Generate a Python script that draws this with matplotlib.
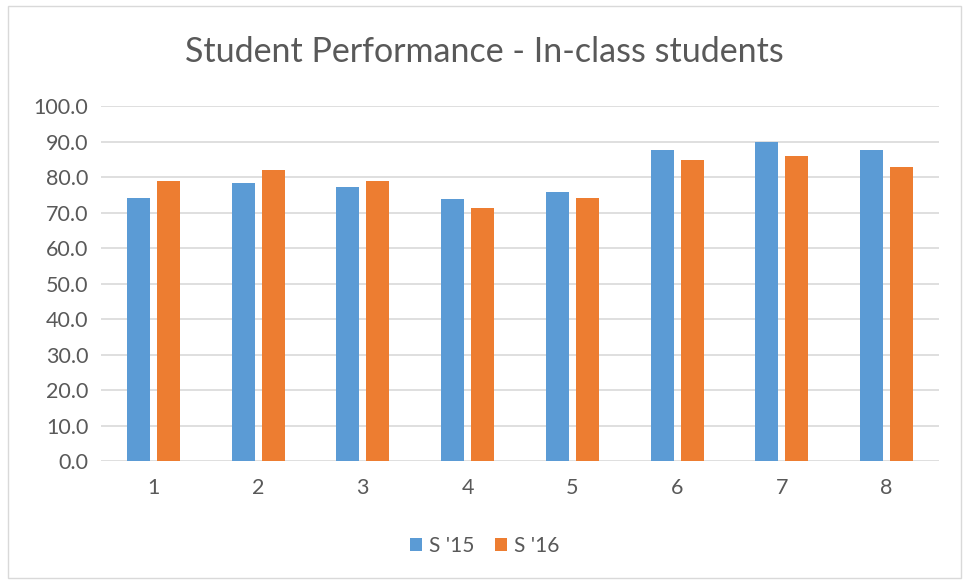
import matplotlib
matplotlib.use("Agg")
import matplotlib.pyplot as plt
import numpy as np
from matplotlib.patches import Rectangle

categories = ["1", "2", "3", "4", "5", "6", "7", "8"]
s15 = [74.0, 78.2, 77.3, 73.8, 75.8, 87.5, 89.8, 87.5]
s16 = [79.0, 82.0, 79.0, 71.4, 74.2, 84.8, 86.0, 82.8]
yticks = [0, 10, 20, 30, 40, 50, 60, 70, 80, 90, 100]

plt.rcParams['font.family'] = ['Lato', 'DejaVu Sans']
txt = '#595959'

fig = plt.figure(figsize=(9.69, 5.81), dpi=100)
ax = fig.add_axes([0.1042, 0.2065, 0.8648, 0.611])

x = np.arange(len(categories))
w = 0.22
off = 0.143
ax.bar(x - off, s15, width=w, color='#5B9BD5', label="S '15", zorder=3)
ax.bar(x + off, s16, width=w, color='#ED7D31', label="S '16", zorder=3)

ax.set_xlim(-0.5, len(categories) - 0.5)
ax.set_ylim(0, 100)
ax.set_yticks(yticks)
ax.set_yticklabels([f"{v:.1f}" for v in yticks], fontsize=15.5, color=txt)
ax.set_xticks(x)
ax.set_xticklabels(categories, fontsize=15.5, color=txt)
ax.tick_params(axis='y', length=0, pad=9)
ax.tick_params(axis='x', length=0, pad=12)
ax.grid(axis='y', color='#d9d9d9', linewidth=1.2, zorder=0)
for s in ax.spines.values():
    s.set_visible(False)

fig.text(0.5, 0.9105, "Student Performance - In-class students", ha='center', va='center',
         fontsize=24.5, color=txt)

leg = fig.legend(loc='center', bbox_to_anchor=(0.5, 0.06), ncol=2, frameon=False,
                 fontsize=15, handlelength=0.6, handleheight=0.6, columnspacing=1.0,
                 handletextpad=0.3, labelcolor=txt)

fig.patches.append(Rectangle((0.008, 0.005), 0.984, 0.985, transform=fig.transFigure,
                             fill=False, edgecolor='#d9d9d9', linewidth=1))

fig.savefig("out.png", dpi=100)
